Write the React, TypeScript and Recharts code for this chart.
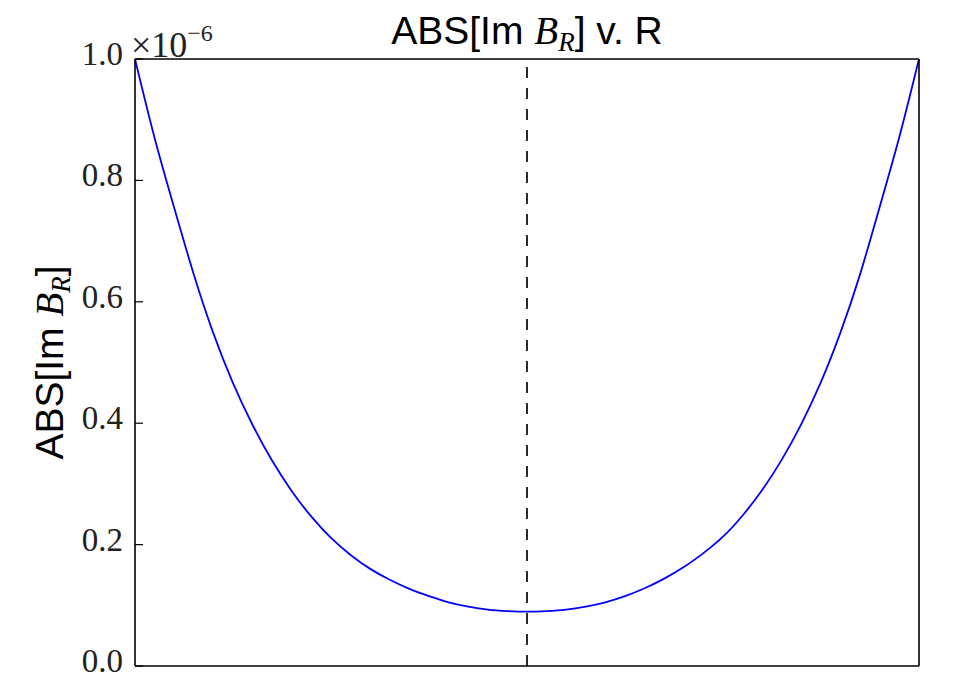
import React from "react";
import { LineChart, Line, XAxis, YAxis, ReferenceLine } from "recharts";

// R sample positions and |Im B_R| (in units of 1e-6)
const rValues = [
  -1.0, -0.95, -0.9, -0.85, -0.8, -0.75, -0.7, -0.65, -0.6, -0.55, -0.5,
  -0.45, -0.4, -0.35, -0.3, -0.25, -0.2, -0.15, -0.1, -0.05, 0.0,
  0.05, 0.1, 0.15, 0.2, 0.25, 0.3, 0.35, 0.4, 0.45, 0.5,
  0.55, 0.6, 0.65, 0.7, 0.75, 0.8, 0.85, 0.9, 0.95, 1.0,
];
const absImB = [
  1.0, 0.87, 0.755, 0.645, 0.548, 0.466, 0.397, 0.338, 0.288, 0.246, 0.211,
  0.183, 0.16, 0.142, 0.127, 0.115, 0.105, 0.098, 0.093, 0.0905, 0.0895,
  0.0905, 0.093, 0.098, 0.105, 0.115, 0.128, 0.144, 0.163, 0.186, 0.213,
  0.248, 0.29, 0.34, 0.399, 0.468, 0.55, 0.646, 0.757, 0.872, 1.0,
];
const yTicks = [0, 0.2, 0.4, 0.6, 0.8, 1.0];
const minimumR = 0;

const data = rValues.map((r, i) => ({ r, b: absImB[i] }));

const W = 962;
const H = 678;
const LEFT_AXIS_W = 60;
const RIGHT_AXIS_W = 10;
const X_AXIS_H = 10;
const PLOT_LEFT = 135;
const PLOT_RIGHT = 919;
const PLOT_TOP = 59;
const PLOT_BOTTOM = 666;
const margin = {
  top: PLOT_TOP - X_AXIS_H,
  right: W - PLOT_RIGHT - RIGHT_AXIS_W,
  bottom: H - PLOT_BOTTOM - X_AXIS_H,
  left: PLOT_LEFT - LEFT_AXIS_W,
};
const PLOT_MID = (PLOT_LEFT + PLOT_RIGHT) / 2;
const PLOT_MID_Y = (PLOT_TOP + PLOT_BOTTOM) / 2;

const SANS = "'Liberation Sans', Arial, sans-serif";
const SERIF = "'Liberation Serif', 'Times New Roman', serif";
const spine = { stroke: "#000", strokeWidth: 1.6 };

function LeftTick(props: any) {
  const { y, payload } = props;
  return (
    <g>
      <line x1={PLOT_LEFT} x2={PLOT_LEFT + 8} y1={y} y2={y} stroke="#000" strokeWidth={1.2} />
      <text
        x={PLOT_LEFT - 12}
        y={y - 5}
        textAnchor="end"
        dominantBaseline="central"
        style={{ fontFamily: SERIF, fontSize: 33 }}
        fill="#222"
      >
        {Number(payload.value).toFixed(1)}
      </text>
    </g>
  );
}

function RightTick(props: any) {
  const { y } = props;
  return <line x1={PLOT_RIGHT - 8} x2={PLOT_RIGHT} y1={y} y2={y} stroke="#000" strokeWidth={1.2} />;
}

// mixed sans / italic math label: ABS[Im B_R]
function BrLabel() {
  return (
    <>
      <tspan style={{ fontFamily: SANS }}>ABS[Im </tspan>
      <tspan style={{ fontFamily: SERIF, fontStyle: "italic" }}>B</tspan>
      <tspan style={{ fontFamily: SERIF, fontStyle: "italic", fontSize: 27 }} dy={7}>R</tspan>
      <tspan style={{ fontFamily: SANS }} dy={-7}>]</tspan>
    </>
  );
}

export default function App() {
  return (
    <div style={{ position: "absolute", left: 0, top: 0, background: "#fff" }}>
      <LineChart width={W} height={H} data={data} margin={margin}>
        <XAxis
          dataKey="r"
          type="number"
          domain={[-1, 1]}
          tick={false}
          tickLine={false}
          height={X_AXIS_H}
          axisLine={spine}
        />
        <XAxis
          xAxisId="top"
          dataKey="r"
          orientation="top"
          type="number"
          domain={[-1, 1]}
          tick={false}
          tickLine={false}
          height={X_AXIS_H}
          axisLine={spine}
        />
        <YAxis
          type="number"
          domain={[0, 1]}
          ticks={yTicks}
          width={LEFT_AXIS_W}
          tickLine={false}
          tick={<LeftTick />}
          axisLine={spine}
        />
        <YAxis
          yAxisId="right"
          orientation="right"
          type="number"
          domain={[0, 1]}
          ticks={yTicks}
          width={RIGHT_AXIS_W}
          tickLine={false}
          tick={<RightTick />}
          axisLine={spine}
        />
        <ReferenceLine x={minimumR} stroke="#2a2a2a" strokeWidth={2} strokeDasharray="11 10" />
        <Line
          type="natural"
          dataKey="b"
          stroke="#0000ff"
          strokeWidth={1.8}
          dot={false}
          isAnimationActive={false}
        />
        {/* title */}
        <text x={PLOT_MID} y={44} textAnchor="middle" style={{ fontSize: 39 }} fill="#000">
          <BrLabel />
          <tspan style={{ fontFamily: SANS }}> v. R</tspan>
        </text>
        {/* y label */}
        <text
          x={63}
          y={PLOT_MID_Y}
          textAnchor="middle"
          style={{ fontSize: 39 }}
          fill="#000"
          transform={`rotate(-90 63 ${PLOT_MID_Y})`}
        >
          <BrLabel />
        </text>
        {/* axis scale offset */}
        <text x={131} y={57} style={{ fontFamily: SERIF, fontSize: 36 }} fill="#222">
          ×10
          <tspan style={{ fontSize: 24 }} dy={-16}>−6</tspan>
        </text>
      </LineChart>
    </div>
  );
}
